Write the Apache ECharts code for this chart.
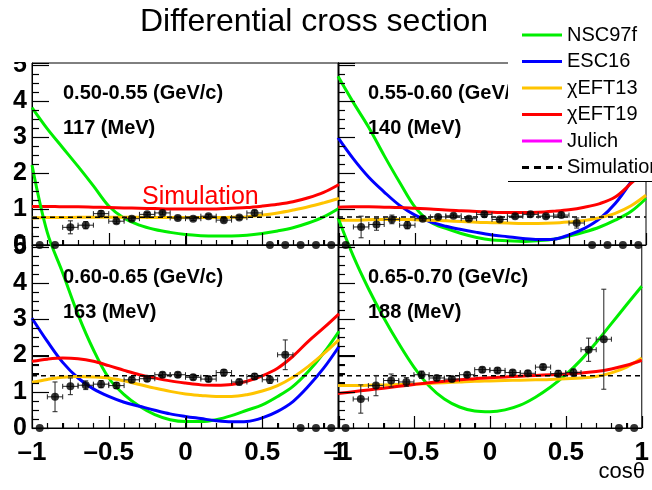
<!DOCTYPE html>
<html>
<head>
<meta charset="utf-8">
<script src="https://cdn.jsdelivr.net/npm/echarts@6/dist/echarts.min.js"></script>
<style>
  html, body { margin: 0; padding: 0; background: #fff; }
  #chart { width: 652px; height: 490px; }
</style>
</head>
<body>
<div id="chart"></div>
<script>
const FONT = "'Liberation Sans', Arial, Helvetica, sans-serif";

// bin centres of the measured points, and where the model curves are sampled
const cosBins = [-0.95, -0.85, -0.75, -0.65, -0.55, -0.45, -0.35, -0.25, -0.15, -0.05,
                 0.05, 0.15, 0.25, 0.35, 0.45, 0.55, 0.65, 0.75, 0.85, 0.95];
const cosCurve = [-1, -0.9, -0.8, -0.7, -0.6, -0.5, -0.4, -0.3, -0.2, -0.1,
                  0, 0.1, 0.2, 0.3, 0.4, 0.5, 0.6, 0.7, 0.8, 0.9, 1];

// tick marks (ROOT style, drawn inwards)
const xTickValues = [-1, -0.9, -0.8, -0.7, -0.6, -0.5, -0.4, -0.3, -0.2, -0.1,
                     0, 0.1, 0.2, 0.3, 0.4, 0.5, 0.6, 0.7, 0.8, 0.9, 1];
const xMajorTicks = [-1, -0.5, 0, 0.5, 1];
const yTickValues = [0, 0.25, 0.5, 0.75, 1, 1.25, 1.5, 1.75, 2, 2.25, 2.5, 2.75,
                     3, 3.25, 3.5, 3.75, 4, 4.25, 4.5, 4.75, 5];
const yMajorTicks = [0, 1, 2, 3, 4, 5];

const panelMomenta = ['0.50-0.55 (GeV/c)', '0.55-0.60 (GeV/c)', '0.60-0.65 (GeV/c)', '0.65-0.70 (GeV/c)'];
const panelEnergies = ['117 (MeV)', '140 (MeV)', '163 (MeV)', '188 (MeV)'];

// panel 1: 0.50-0.55 GeV/c
const data1 = [0, 0, 0.49, 0.55, 0.87, 0.66, 0.73, 0.85, 0.89, 0.75, 0.73, 0.80, 0.69, 0.76, 0.89, 0, 0, 0, 0, 0];
const err1  = [0, 0, 0.18, 0.10, 0.08, 0.06, 0.05, 0.05, 0.05, 0.05, 0.05, 0.05, 0.05, 0.05, 0.08, 0, 0, 0, 0, 0];
const nsc1  = [3.81, 3.22, 2.70, 2.18, 1.64, 1.08, 0.74, 0.55, 0.43, 0.35, 0.29, 0.26, 0.25, 0.25, 0.27, 0.32, 0.39, 0.48, 0.61, 0.78, 1.02];
const eft13_1 = [0.75, 0.76, 0.76, 0.77, 0.77, 0.77, 0.77, 0.77, 0.76, 0.76, 0.76, 0.76, 0.76, 0.77, 0.78, 0.83, 0.89, 0.97, 1.06, 1.17, 1.29];
const eft19_1 = [1.07, 1.07, 1.06, 1.06, 1.05, 1.04, 1.03, 1.02, 1.01, 1.00, 1.00, 1.00, 1.00, 1.02, 1.04, 1.08, 1.13, 1.20, 1.31, 1.46, 1.68];
const sim1 = 0.77;

// panel 2: 0.55-0.60 GeV/c
const data2 = [0, 0.50, 0.57, 0.71, 0.55, 0.73, 0.78, 0.81, 0.73, 0.85, 0.71, 0.80, 0.85, 0.80, 0.83, 0.61, 0, 0, 0, 0];
const err2  = [0, 0.30, 0.16, 0.12, 0.10, 0.06, 0.05, 0.05, 0.05, 0.05, 0.05, 0.05, 0.05, 0.05, 0.06, 0.14, 0, 0, 0, 0];
const nsc2  = [4.68, 3.95, 3.26, 2.48, 1.74, 1.05, 0.64, 0.46, 0.32, 0.21, 0.14, 0.12, 0.10, 0.12, 0.16, 0.25, 0.36, 0.50, 0.69, 0.92, 1.29];
const esc2  = [2.98, 2.39, 1.88, 1.47, 1.10, 0.83, 0.64, 0.52, 0.43, 0.35, 0.28, 0.23, 0.18, 0.15, 0.16, 0.28, 0.46, 0.73, 1.15, 1.74, 2.43];
const eft13_2 = [0.69, 0.69, 0.70, 0.71, 0.71, 0.70, 0.69, 0.67, 0.65, 0.63, 0.62, 0.61, 0.60, 0.60, 0.61, 0.64, 0.68, 0.76, 0.88, 1.08, 1.38];
const eft19_2 = [1.05, 1.06, 1.06, 1.05, 1.04, 1.02, 1.00, 0.97, 0.95, 0.93, 0.91, 0.90, 0.90, 0.91, 0.94, 0.98, 1.05, 1.15, 1.33, 1.70, 2.10];
const sim2 = 0.78;

// panel 3: 0.60-0.65 GeV/c
const data3 = [0, 0.86, 1.15, 1.18, 1.21, 1.17, 1.33, 1.36, 1.47, 1.47, 1.40, 1.35, 1.53, 1.27, 1.42, 1.33, 2.02, 0, 0, 0];
const err3  = [0, 0.41, 0.23, 0.12, 0.10, 0.08, 0.07, 0.07, 0.07, 0.07, 0.07, 0.07, 0.08, 0.08, 0.08, 0.10, 0.41, 0, 0, 0];
const nsc3  = [7.26, 5.39, 4.28, 3.13, 2.16, 1.38, 0.92, 0.60, 0.37, 0.23, 0.18, 0.18, 0.23, 0.34, 0.49, 0.64, 0.87, 1.15, 1.56, 2.07, 2.67];
const esc3  = [3.03, 2.39, 1.81, 1.38, 1.08, 0.87, 0.71, 0.60, 0.49, 0.39, 0.32, 0.26, 0.20, 0.17, 0.18, 0.28, 0.46, 0.73, 1.15, 1.65, 2.25];
const eft13_3 = [1.26, 1.34, 1.40, 1.42, 1.41, 1.38, 1.30, 1.20, 1.10, 1.01, 0.94, 0.90, 0.87, 0.87, 0.92, 1.02, 1.17, 1.40, 1.70, 2.05, 2.44];
const eft19_3 = [1.84, 1.90, 1.93, 1.91, 1.84, 1.72, 1.59, 1.47, 1.38, 1.30, 1.24, 1.19, 1.18, 1.20, 1.29, 1.44, 1.65, 1.98, 2.39, 2.76, 3.15];
const sim3 = 1.44;

// panel 4: 0.65-0.70 GeV/c
const data4 = [0, 0.80, 1.17, 1.31, 1.27, 1.47, 1.38, 1.35, 1.47, 1.61, 1.59, 1.53, 1.51, 1.68, 1.50, 1.53, 2.16, 2.45, 0, 0];
const err4  = [0, 0.39, 0.28, 0.18, 0.12, 0.10, 0.07, 0.07, 0.07, 0.07, 0.07, 0.07, 0.07, 0.08, 0.09, 0.10, 0.32, 1.38, 0, 0];
const nsc4  = [5.80, 4.75, 3.85, 3.05, 2.33, 1.68, 1.16, 0.80, 0.58, 0.47, 0.45, 0.50, 0.63, 0.85, 1.13, 1.47, 1.88, 2.36, 2.88, 3.40, 3.91];
const eft13_4 = [1.17, 1.17, 1.18, 1.19, 1.20, 1.21, 1.23, 1.25, 1.27, 1.29, 1.30, 1.31, 1.32, 1.33, 1.34, 1.36, 1.38, 1.42, 1.52, 1.68, 1.93];
const eft19_4 = [0.95, 1.00, 1.05, 1.10, 1.15, 1.20, 1.25, 1.29, 1.33, 1.36, 1.39, 1.41, 1.43, 1.45, 1.47, 1.49, 1.52, 1.56, 1.63, 1.73, 1.87];
const sim4 = 1.44;

const GREEN = '#00ee00', BLUE = '#0000ff', ORANGE = '#ffc400', RED = '#ff0000', MAGENTA = '#ff00ff';

// 2x2 pads with no gaps, like the ROOT canvas
const pads = [
  { left: 32, top: 63, width: 307, height: 182 },
  { left: 338, top: 63, width: 308, height: 182 },
  { left: 32, top: 245, width: 307, height: 183 },
  { left: 338, top: 245, width: 308, height: 183 }
];

function curve(gi, name, color, vals) {
  return {
    type: 'line', name: name, xAxisIndex: gi, yAxisIndex: gi,
    data: cosCurve.map((c, i) => [c, vals[i]]),
    symbol: 'none', smooth: 0.35, clip: false, silent: true, z: 2,
    lineStyle: { color: color, width: 3 }, itemStyle: { color: color }
  };
}

function simLine(gi, v) {
  return {
    type: 'line', name: 'Simulation', xAxisIndex: gi, yAxisIndex: gi,
    data: [[-1, v], [1, v]], symbol: 'none', silent: true, z: 3,
    lineStyle: { color: '#000', width: 1.5, type: [5, 4] }, itemStyle: { color: '#000' }
  };
}

function errorBars(gi, vals, errs) {
  return {
    type: 'custom', xAxisIndex: gi, yAxisIndex: gi, silent: true, z: 4,
    data: cosBins.map((c, i) => [c, vals[i], errs[i]]),
    encode: { x: 0, y: 1 },
    renderItem: function (params, api) {
      const c = api.value(0), v = api.value(1), e = api.value(2);
      if (v === 0 && e === 0) return null;
      const L = api.coord([c - 0.05, v]), R = api.coord([c + 0.05, v]);
      const T = api.coord([c, v + e]), B = api.coord([c, v - e]);
      const st = { stroke: '#222', lineWidth: 1 };
      const k = 2.5;
      return {
        type: 'group',
        children: [
          { type: 'line', shape: { x1: L[0], y1: L[1], x2: R[0], y2: R[1] }, style: st },
          { type: 'line', shape: { x1: T[0], y1: T[1], x2: B[0], y2: B[1] }, style: st },
          { type: 'line', shape: { x1: L[0], y1: L[1] - k, x2: L[0], y2: L[1] + k }, style: st },
          { type: 'line', shape: { x1: R[0], y1: R[1] - k, x2: R[0], y2: R[1] + k }, style: st },
          { type: 'line', shape: { x1: T[0] - k, y1: T[1], x2: T[0] + k, y2: T[1] }, style: st },
          { type: 'line', shape: { x1: B[0] - k, y1: B[1], x2: B[0] + k, y2: B[1] }, style: st }
        ]
      };
    }
  };
}

function points(gi, vals) {
  return {
    type: 'scatter', xAxisIndex: gi, yAxisIndex: gi, silent: true, z: 5,
    data: cosBins.map((c, i) => [c, vals[i]]),
    symbol: 'circle', symbolSize: 8, itemStyle: { color: '#000' }
  };
}

// inward ticks on the bottom and left edge of a pad, laid out through the pad's own axes
function ticks(gi) {
  const rows = xTickValues.map(v => [v, 0, xMajorTicks.includes(v) ? 12 : 5, 0])
    .concat(yTickValues.map(v => [-1, v, yMajorTicks.includes(v) ? 17 : 7, 1]));
  return {
    type: 'custom', xAxisIndex: gi, yAxisIndex: gi, silent: true, z: 30,
    data: rows, encode: { x: 0, y: 1 },
    renderItem: function (params, api) {
      const p = api.coord([api.value(0), api.value(1)]);
      const len = api.value(2);
      const horizontalAxis = api.value(3) === 0;
      const x = horizontalAxis ? Math.round(p[0]) + 0.5 : Math.round(p[0]);
      const y = horizontalAxis ? Math.round(p[1]) : Math.round(p[1]) + 0.5;
      const shape = horizontalAxis
        ? { x1: x, y1: y, x2: x, y2: y - len }
        : { x1: x, y1: y, x2: x + len, y2: y };
      return { type: 'line', shape: shape, style: { stroke: '#000', lineWidth: 1.2 } };
    }
  };
}

const xAxes = pads.map((p, i) => ({
  type: 'value', gridIndex: i, min: -1, max: 1, interval: 0.5,
  axisLine: { show: true, onZero: false, lineStyle: { color: '#000' } },
  axisTick: { show: true, inside: true, length: 12, lineStyle: { color: '#000' } },
  minorTick: { show: true, splitNumber: 5, length: 5, lineStyle: { color: '#000' } },
  splitLine: { show: false },
  axisLabel: {
    show: i >= 2, margin: 12, color: '#000', fontSize: 26, fontWeight: 'bold', fontFamily: FONT,
    formatter: v => String(v).replace('-', '\u2013')
  }
}));

const yAxes = pads.map((p, i) => ({
  type: 'value', gridIndex: i, min: 0, max: 5.05, interval: 1,
  axisLine: { show: true, onZero: false, lineStyle: { color: '#000' } },
  axisTick: { show: true, inside: true, length: 17, lineStyle: { color: '#000' } },
  minorTick: { show: true, splitNumber: 4, length: 7, lineStyle: { color: '#000' } },
  splitLine: { show: false },
  axisLabel: {
    show: i % 2 === 0, margin: 5, color: '#000', fontSize: 25, fontWeight: 'bold', fontFamily: FONT,
    formatter: v => (Number.isInteger(v) ? String(v) : '')
  }
}));

const series = [
  curve(0, 'NSC97f', GREEN, nsc1), curve(0, 'χEFT13', ORANGE, eft13_1), curve(0, 'χEFT19', RED, eft19_1),
  { type: 'line', name: 'Julich', xAxisIndex: 0, yAxisIndex: 0, data: [], symbol: 'none',
    lineStyle: { color: MAGENTA, width: 3 }, itemStyle: { color: MAGENTA } },
  simLine(0, sim1), errorBars(0, data1, err1), points(0, data1),

  curve(1, 'NSC97f', GREEN, nsc2), curve(1, 'ESC16', BLUE, esc2),
  curve(1, 'χEFT13', ORANGE, eft13_2), curve(1, 'χEFT19', RED, eft19_2),
  simLine(1, sim2), errorBars(1, data2, err2), points(1, data2),

  curve(2, 'NSC97f', GREEN, nsc3), curve(2, 'ESC16', BLUE, esc3),
  curve(2, 'χEFT13', ORANGE, eft13_3), curve(2, 'χEFT19', RED, eft19_3),
  simLine(2, sim3), errorBars(2, data3, err3), points(2, data3),

  curve(3, 'NSC97f', GREEN, nsc4), curve(3, 'χEFT13', ORANGE, eft13_4), curve(3, 'χEFT19', RED, eft19_4),
  simLine(3, sim4), errorBars(3, data4, err4), points(3, data4),

  ticks(0), ticks(1), ticks(2), ticks(3)
];

// panel captions and other free text
const graphics = [];
const captionPos = [[63, 93], [368, 93], [63, 277], [368, 277]];
captionPos.forEach((pos, i) => {
  [panelMomenta[i], panelEnergies[i]].forEach((t, j) => {
    graphics.push({
      type: 'text', x: pos[0], y: pos[1] + j * 35, z: 6,
      style: { text: t, fill: '#000', font: 'bold 20px ' + FONT, verticalAlign: 'middle' }
    });
  });
});
graphics.push(
  { type: 'text', x: 140, y: 22, z: 6,
    style: { text: 'Differential cross section', fill: '#000', font: '32px ' + FONT, verticalAlign: 'middle' } },
  { type: 'text', x: 142, y: 197, z: 6,
    style: { text: 'Simulation', fill: '#ff0000', font: '25px ' + FONT, verticalAlign: 'middle' } },
  { type: 'text', x: 645, y: 472, z: 6,
    style: { text: 'cosθ', fill: '#000', font: '22px ' + FONT, align: 'right', verticalAlign: 'middle' } },
  // legend pad and the clipped top of the first pad
  { type: 'rect', shape: { x: 508, y: 0, width: 144, height: 181 }, style: { fill: '#fff' }, z: 40 },
  { type: 'line', shape: { x1: 508, y1: 181.5, x2: 652, y2: 181.5 }, style: { stroke: '#000', lineWidth: 1 }, z: 41 },
  { type: 'rect', shape: { x: 0, y: 38, width: 30, height: 24 }, style: { fill: '#fff' }, z: 40 }
);

const chart = echarts.init(document.getElementById('chart'));
chart.setOption({
  animation: false,
  grid: pads.map(p => Object.assign({ show: true, borderColor: '#000', borderWidth: 1 }, p)),
  xAxis: xAxes,
  yAxis: yAxes,
  legend: {
    orient: 'vertical', left: 517, top: 20, z: 50,
    itemWidth: 40, itemHeight: 3, itemGap: 6.5, selectedMode: false,
    textStyle: { fontSize: 20, lineHeight: 20, color: '#000', fontFamily: FONT },
    data: [
      { name: 'NSC97f', icon: 'rect' },
      { name: 'ESC16', icon: 'rect' },
      { name: 'χEFT13', icon: 'rect' },
      { name: 'χEFT19', icon: 'rect' },
      { name: 'Julich', icon: 'rect' },
      { name: 'Simulation', icon: 'path://M0 0H7V3H0Z M12 0H19V3H12Z M24 0H31V3H24Z M36 0H40V3H36Z' }
    ]
  },
  graphic: graphics,
  series: series
});
</script>
</body>
</html>
